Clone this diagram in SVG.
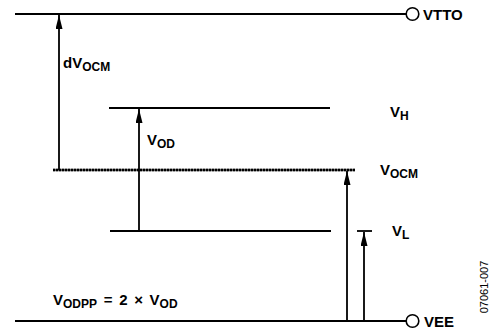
<svg xmlns="http://www.w3.org/2000/svg" width="493" height="331" viewBox="0 0 493 331">
<defs>
<marker id="ah" viewBox="0 0 14 7" refX="14" refY="3.5" markerWidth="14" markerHeight="7" markerUnits="userSpaceOnUse" orient="auto">
<path d="M0,0 L14,3.5 L0,7 Z" fill="#000"/>
</marker>
<style>
.ln{stroke:#000;stroke-width:1.8;fill:none}
.ar{stroke:#000;stroke-width:1.8;fill:none;marker-end:url(#ah)}
.t{font-family:"Liberation Sans",Arial,sans-serif;font-weight:bold;font-size:15px;fill:#000}
.s{font-size:12px}
.term{fill:#fff;stroke:#000;stroke-width:1.6}
.id{font-family:"Liberation Sans",Arial,sans-serif;font-size:11px;fill:#000}
</style>
</defs>
<g id="connectors">
<line class="ln" x1="15" y1="14" x2="406" y2="14"/>
<line class="ln" x1="15" y1="321" x2="406" y2="321"/>
<line class="ln" x1="109" y1="108" x2="330" y2="108"/>
<line class="ln" x1="110" y1="231" x2="331" y2="231"/>
<line x1="53" y1="170" x2="355" y2="170" stroke="#666" stroke-width="2.6"/>
<line x1="53" y1="170" x2="355" y2="170" stroke="#000" stroke-width="2.6" stroke-dasharray="2,1"/>
<line class="ar" x1="59" y1="170" x2="59" y2="15"/>
<line class="ar" x1="139" y1="231" x2="139" y2="109"/>
<line class="ar" x1="347" y1="321" x2="347" y2="171"/>
<line class="ar" x1="364" y1="321" x2="364" y2="232"/>
<line class="ln" x1="357" y1="231" x2="372" y2="231"/>
</g>
<g id="vtto">
<circle class="term" cx="412.5" cy="14" r="6.3"/>
<text class="t" x="423" y="19.5">VTTO</text>
</g>
<g id="vee">
<circle class="term" cx="412.5" cy="321" r="6.3"/>
<text class="t" x="424" y="326.5">VEE</text>
</g>
<g id="dvocm"><text class="t" x="63" y="68">dV<tspan class="s" dy="3">OCM</tspan></text></g>
<g id="vh"><text class="t" x="390" y="117">V<tspan class="s" dy="3">H</tspan></text></g>
<g id="vod"><text class="t" x="147" y="145">V<tspan class="s" dy="3">OD</tspan></text></g>
<g id="vocm"><text class="t" x="380" y="175">V<tspan class="s" dy="3">OCM</tspan></text></g>
<g id="vl"><text class="t" x="392" y="236">V<tspan class="s" dy="3">L</tspan></text></g>
<g id="vodpp"><text class="t" x="53" y="305">V<tspan class="s" dy="3">ODPP</tspan><tspan dy="-3" word-spacing="2.5"> = 2 × V</tspan><tspan class="s" dy="3">OD</tspan></text></g>
<text class="id" transform="translate(488,287) rotate(-90)" text-anchor="middle">07061-007</text>
</svg>
